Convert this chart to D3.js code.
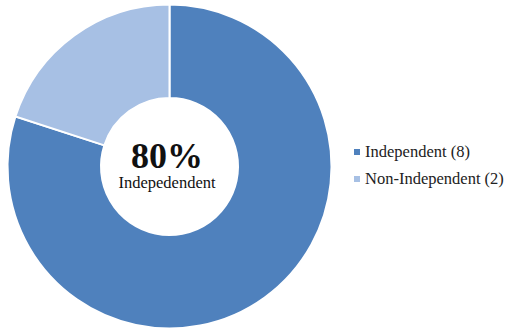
<!DOCTYPE html>
<html>
<head>
<meta charset="utf-8">
<script src="https://cdn.jsdelivr.net/npm/d3@7"></script>
<style>
  body { margin: 0; background: #fff; }
  svg text { font-family: "Liberation Serif", "Times New Roman", Times, serif; }
</style>
</head>
<body>
<svg id="chart"></svg>
<script>
let categories = ["Independent", "Non-Independent"],
    counts = [8, 2],
    colors = ["#4F81BD", "#A7C0E4"],
    centerValue = "80%",
    centerLabel = "Indepedendent";

let width = 508, height = 336,
    cx = 169.5, cy = 166.5,
    outerR = 162, innerR = 68.5;

let svg = d3.select("#chart")
  .attr("width", width)
  .attr("height", height);

let g = svg.append("g")
  .attr("transform", "translate(" + cx + "," + cy + ")");

let pie = d3.pie().sort(null).value(function(d) { return d; });
let arc = d3.arc().innerRadius(innerR).outerRadius(outerR);

g.selectAll("path")
  .data(pie(counts))
  .enter().append("path")
    .attr("d", arc)
    .attr("fill", function(d, i) { return colors[i]; })
    .attr("stroke", "#fff")
    .attr("stroke-width", 2);

// center text
g.append("text")
  .attr("x", -2.5)
  .attr("y", 1.5)
  .attr("text-anchor", "middle")
  .style("font-size", "36px")
  .style("font-weight", "bold")
  .attr("fill", "#111")
  .text(centerValue);

g.append("text")
  .attr("x", -2.5)
  .attr("y", 21.5)
  .attr("text-anchor", "middle")
  .style("font-size", "16.5px")
  .attr("fill", "#111")
  .text(centerLabel);

// legend
let legend = svg.append("g").attr("transform", "translate(354,157)");

let item = legend.selectAll("g")
  .data(categories)
  .enter().append("g")
    .attr("transform", function(d, i) { return "translate(0," + (i * 27) + ")"; });

item.append("rect")
  .attr("x", 0)
  .attr("y", -8)
  .attr("width", 6)
  .attr("height", 6)
  .attr("fill", function(d, i) { return colors[i]; });

item.append("text")
  .attr("x", 11)
  .attr("y", 0)
  .style("font-size", "16.5px")
  .attr("fill", "#222")
  .text(function(d, i) { return d + " (" + counts[i] + ")"; });
</script>
</body>
</html>
